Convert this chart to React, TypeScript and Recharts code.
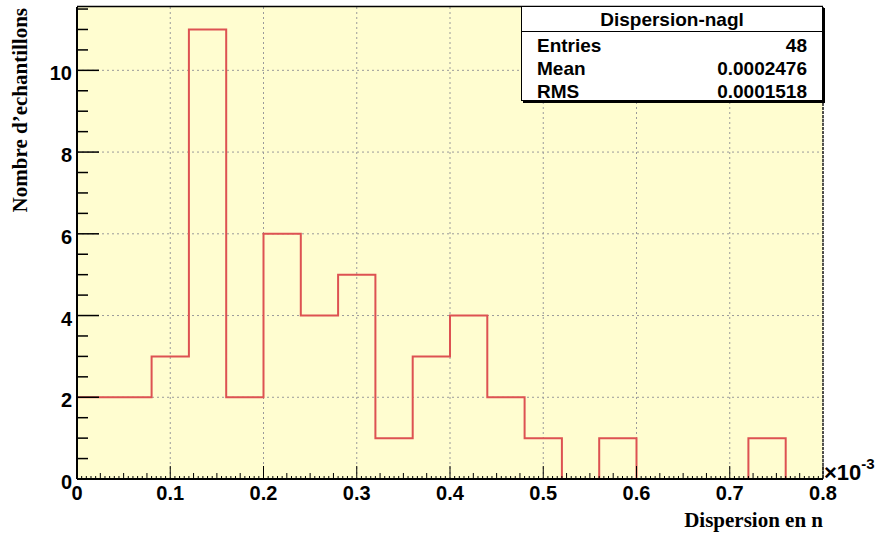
import React from "react";
import { ComposedChart, Line, XAxis, YAxis, CartesianGrid } from "recharts";

// Histogram "Dispersion-nagl": bin edges (units of 1e-3) and counts per bin
const BIN_EDGES = [0, 0.04, 0.08, 0.12, 0.16, 0.2, 0.24, 0.28, 0.32, 0.36, 0.4, 0.44, 0.48, 0.52, 0.56, 0.6, 0.64, 0.68, 0.72, 0.76, 0.8];
const COUNTS = [2, 2, 3, 11, 2, 6, 4, 5, 1, 3, 4, 2, 1, 0, 1, 0, 0, 0, 1, 0];

const X_MAJOR = [0, 0.1, 0.2, 0.3, 0.4, 0.5, 0.6, 0.7, 0.8];
const X_LABELS = ["0", "0.1", "0.2", "0.3", "0.4", "0.5", "0.6", "0.7", "0.8"];
const Y_MAJOR = [0, 2, 4, 6, 8, 10];
const Y_LABELS = ["0", "2", "4", "6", "8", "10"];

const STATS_TITLE = "Dispersion-nagl";
const STATS_ROWS = [
  ["Entries", "48"],
  ["Mean", "0.0002476"],
  ["RMS", "0.0001518"],
];

const W = 877;
const H = 533;
const PLOT_LEFT = 77;
const PLOT_RIGHT = 823;
const PLOT_TOP = 7;
const PLOT_BOTTOM = 479;

const SANS = "'Liberation Sans', Arial, Helvetica, sans-serif";
const SERIF = "'Liberation Serif', 'Times New Roman', serif";
const HIST_RED = "#dd5252";
const FRAME_BG = "#fffdd0";

// step line needs one point per edge; the last edge repeats the last bin's value
const histData = BIN_EDGES.map((edge, i) => ({ x: edge, n: COUNTS[Math.min(i, COUNTS.length - 1)] }));

// fine tick positions for the ROOT-style axes (every 0.005 on x, every 0.5 on y)
const xTicks = Array.from({ length: 161 }, (_, i) => Math.round(i * 5) / 1000);
const yTicks = Array.from({ length: 24 }, (_, i) => i / 2);

const isMultiple = (v: number, step: number) => Math.abs(v / step - Math.round(v / step)) < 1e-6;

function XTick({ x, payload }: any) {
  const v = payload.value as number;
  const major = isMultiple(v, 0.1);
  const medium = isMultiple(v, 0.025);
  const len = major ? 13 : medium ? 6 : 3;
  const idx = X_MAJOR.findIndex((m) => Math.abs(m - v) < 1e-6);
  return (
    <g>
      <line x1={x} x2={x} y1={PLOT_BOTTOM} y2={PLOT_BOTTOM - len} stroke="#000" strokeWidth={1} />
      {idx >= 0 && (
        <text x={x} y={500} textAnchor="middle" fontFamily={SANS} fontWeight="bold" fontSize={20} fill="#000">
          {X_LABELS[idx]}
        </text>
      )}
    </g>
  );
}

function YTick({ y, payload }: any) {
  const v = payload.value as number;
  const idx = Y_MAJOR.indexOf(v);
  const len = idx >= 0 ? 22 : 11;
  return (
    <g>
      <line x1={PLOT_LEFT} x2={PLOT_LEFT + len} y1={y} y2={y} stroke="#000" strokeWidth={1.5} />
      {idx >= 0 && (
        <text x={72} y={y + 10} textAnchor="end" fontFamily={SANS} fontWeight="bold" fontSize={20} fill="#000">
          {Y_LABELS[idx]}
        </text>
      )}
    </g>
  );
}

export default function App() {
  return (
    <div style={{ position: "absolute", left: 0, top: 0, width: W, height: H, background: "#fff" }}>
      <ComposedChart width={W} height={H} data={histData} margin={{ top: PLOT_TOP, right: W - PLOT_RIGHT, bottom: 0, left: 0 }}>
        <CartesianGrid
          fill={FRAME_BG}
          stroke="#9a9a9a"
          strokeDasharray="2 3"
          horizontalValues={[2, 4, 6, 8, 10]}
          verticalValues={[0.1, 0.2, 0.3, 0.4, 0.5, 0.6, 0.7, 0.8]}
        />
        <XAxis
          dataKey="x"
          type="number"
          domain={[0, 0.8]}
          ticks={xTicks}
          interval={0}
          height={H - PLOT_BOTTOM}
          axisLine={{ stroke: "#000", strokeWidth: 2 }}
          tickLine={false}
          tick={<XTick />}
          allowDataOverflow
        />
        <YAxis
          type="number"
          domain={[0, 11.55]}
          ticks={yTicks}
          interval={0}
          width={PLOT_LEFT}
          axisLine={{ stroke: "#000", strokeWidth: 2 }}
          tickLine={false}
          tick={<YTick />}
          allowDataOverflow
        />
        <Line
          type="stepAfter"
          dataKey="n"
          stroke={HIST_RED}
          strokeWidth={2}
          dot={false}
          activeDot={false}
          isAnimationActive={false}
        />
      </ComposedChart>

      <svg width={W} height={H} style={{ position: "absolute", left: 0, top: 0, pointerEvents: "none" }}>
        {/* frame top and right edges */}
        <line x1={PLOT_LEFT} x2={PLOT_RIGHT} y1={6.5} y2={6.5} stroke="#000" strokeWidth={1.5} />
        <line x1={PLOT_RIGHT} x2={PLOT_RIGHT} y1={PLOT_TOP} y2={PLOT_BOTTOM} stroke="#222" strokeWidth={1.5} strokeDasharray="3 1" />

        {/* stats box */}
        <rect x={523} y={8} width={302} height={95} fill="#000" />
        <rect x={521.5} y={6.5} width={301} height={94} fill="#fff" stroke="#000" strokeWidth={1} />
        <line x1={521.5} x2={822.5} y1={31.5} y2={31.5} stroke="#000" strokeWidth={1} />
        <text x={672} y={26} textAnchor="middle" fontFamily={SANS} fontWeight="bold" fontSize={19}>
          {STATS_TITLE}
        </text>
        {STATS_ROWS.map(([k, v], i) => (
          <g key={k}>
            <text x={537} y={51.5 + i * 23.3} fontFamily={SANS} fontWeight="bold" fontSize={19}>
              {k}
            </text>
            <text x={807} y={51.5 + i * 23.3} textAnchor="end" fontFamily={SANS} fontWeight="bold" fontSize={19}>
              {v}
            </text>
          </g>
        ))}

        {/* exponent of the x axis */}
        <text x={824} y={480} fontFamily={SANS} fontWeight="bold" fontSize={22}>
          ×10
          <tspan fontSize={15} dy={-11}>-3</tspan>
        </text>

        {/* axis titles */}
        <text x={PLOT_RIGHT} y={527} textAnchor="end" fontFamily={SERIF} fontWeight="bold" fontSize={21}>
          Dispersion en n
        </text>
        <text
          x={0}
          y={0}
          transform="translate(27, 8) rotate(-90)"
          textAnchor="end"
          fontFamily={SERIF}
          fontWeight="bold"
          fontSize={21}
        >
          Nombre d’echantillons
        </text>
      </svg>
    </div>
  );
}
